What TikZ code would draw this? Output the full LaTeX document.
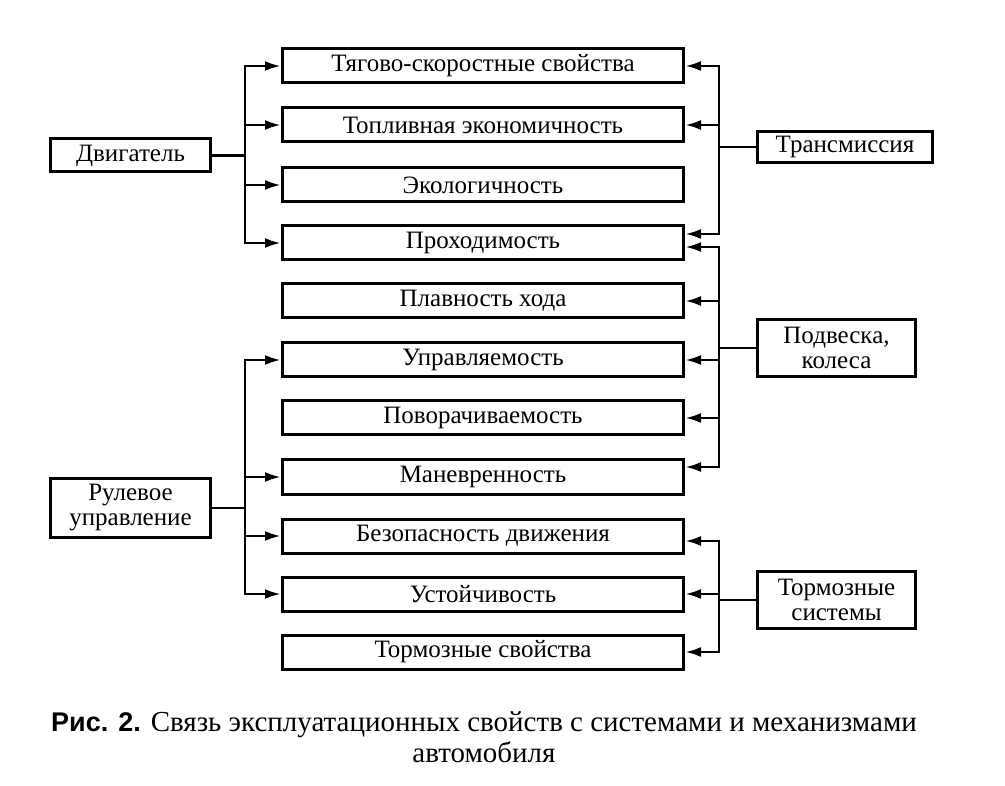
\documentclass[tikz,border=0pt]{standalone}
\usepackage{fontspec}
\setmainfont{Liberation Serif}
\newfontfamily\boxfont{Liberation Serif}
\newfontfamily\capfont{Liberation Serif}
\newfontfamily\capboldfont{Liberation Sans}
\usetikzlibrary{arrows.meta}
\begin{document}
\begin{tikzpicture}[x=1pt,y=-1pt,
  box/.style={draw,line width=3pt,minimum height=34pt,inner sep=0pt,
    font=\boxfont\fontsize{25}{25}\selectfont,align=center},
  prop/.style={box,minimum width=401pt},
  conn/.style={line width=2.8pt},
  arr/.style={conn,-{Latex[length=16pt,width=10pt]}}]
\useasboundingbox (0,0) rectangle (1005,786);
\fill[white] (0,0) rectangle (1005,786);

\node[prop] (p1)  at (483,66)  {Тягово-скоростные свойства};
\node[prop] (p2)  at (483,125) {Топливная экономичность};
\node[prop] (p3)  at (483,185) {Экологичность};
\node[prop] (p4)  at (483,243) {Проходимость};
\node[prop] (p5)  at (483,301) {Плавность хода};
\node[prop] (p6)  at (483,360) {Управляемость};
\node[prop] (p7)  at (483,418) {Поворачиваемость};
\node[prop] (p8)  at (483,477) {Маневренность};
\node[prop] (p9)  at (483,536) {Безопасность движения};
\node[prop] (p10) at (483,594) {Устойчивость};
\node[prop] (p11) at (483,652) {Тормозные свойства};

\node[box,minimum width=160pt,minimum height=33pt] (eng) at (130.5,155.5) {Двигатель};
\node[box,minimum width=160pt,minimum height=59pt] (steer) at (130.5,508) {Рулевое\\управление};
\node[box,minimum width=175pt,minimum height=31pt] (trans) at (845,147) {Трансмиссия};
\node[box,minimum width=158pt,minimum height=57pt] (susp) at (836.5,348) {Подвеска,\\колеса};
\node[box,minimum width=158pt,minimum height=57pt] (brake) at (836.5,600) {Тормозные\\системы};

% engine
\coordinate (eb) at (245,155.5);
\draw[conn] (eng.east) -- (eb);
\draw[arr] (eb) |- (p1.west);
\draw[arr] (eb) |- (p2.west);
\draw[arr] (eb) |- (p3.west);
\draw[arr] (eb) |- (p4.west);

% steering
\coordinate (rb) at (245,508);
\draw[conn] (steer.east) -- (rb);
\draw[arr] (rb) |- (p6.west);
\draw[arr] (rb) |- (p8.west);
\draw[arr] (rb) |- (p9.west);
\draw[arr] (rb) |- (p10.west);

% transmission
\coordinate (tb) at (719,147);
\draw[conn] (trans.west) -- (tb);
\draw[arr] (tb) |- (p1.east);
\draw[arr] (tb) |- (p2.east);
\draw[arr] (tb) |- ([yshift=9pt]p4.east);

% suspension
\coordinate (sb) at (719,348);
\draw[conn] (susp.west) -- (sb);
\draw[arr] (sb) |- ([yshift=-4pt]p4.east);
\draw[arr] (sb) |- (p5.east);
\draw[arr] (sb) |- (p6.east);
\draw[arr] (sb) |- (p7.east);
\draw[arr] (sb) |- ([yshift=10pt]p8.east);

% brakes
\coordinate (bb) at (719,600);
\draw[conn] (brake.west) -- (bb);
\draw[arr] (bb) |- ([yshift=-5pt]p9.east);
\draw[arr] (bb) |- (p10.east);
\draw[arr] (bb) |- (p11.east);

\node[font=\capfont\fontsize{29}{31}\selectfont,align=center] (cap) at (484,737)
  {{\capboldfont\bfseries\fontsize{27}{31}\selectfont Рис. 2.}\hspace{10pt}Связь эксплуатационных свойств с системами и механизмами\\автомобиля};
\end{tikzpicture}
\end{document}
